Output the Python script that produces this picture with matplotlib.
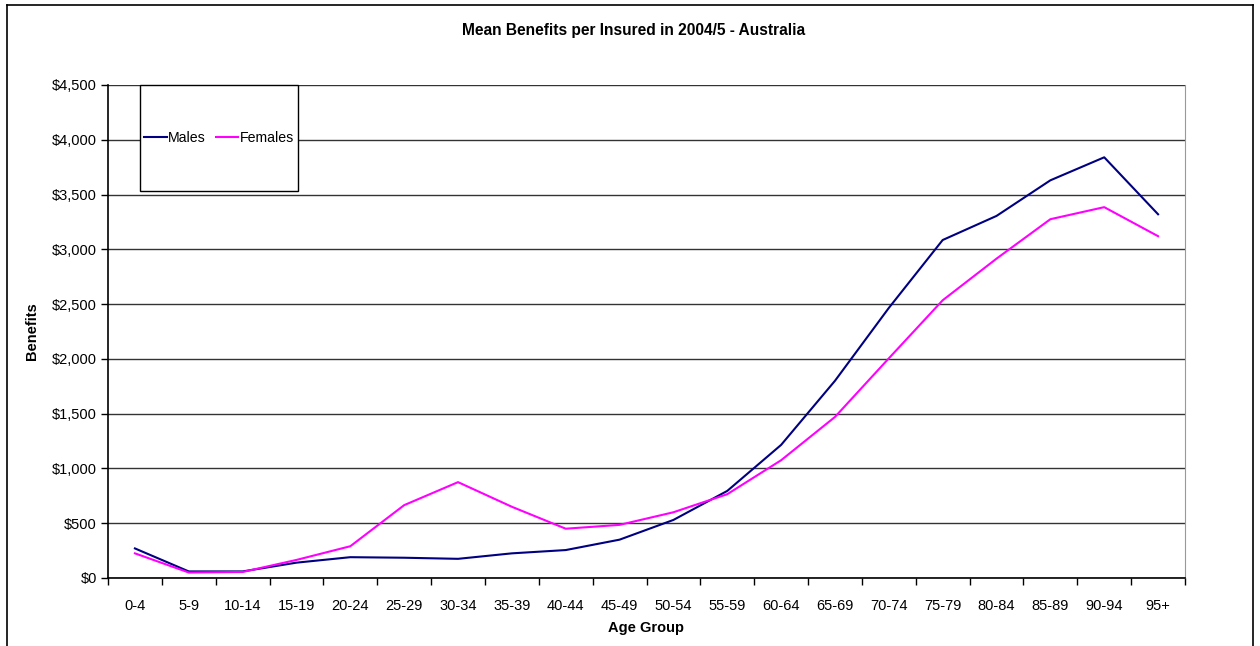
import numpy as np
import matplotlib.pyplot as plt
from matplotlib.patches import Rectangle
from matplotlib.lines import Line2D
from matplotlib.ticker import FuncFormatter, MultipleLocator

plt.rcParams['font.family'] = ['Liberation Sans', 'DejaVu Sans']

age_groups = ['0-4', '5-9', '10-14', '15-19', '20-24', '25-29', '30-34', '35-39',
              '40-44', '45-49', '50-54', '55-59', '60-64', '65-69', '70-74', '75-79',
              '80-84', '85-89', '90-94', '95+']
males = [270, 60, 60, 140, 190, 185, 175, 225, 255, 350, 530, 795, 1215, 1800,
         2465, 3085, 3305, 3630, 3840, 3320]
females = [225, 50, 55, 165, 290, 665, 875, 650, 450, 485, 600, 765, 1075, 1470,
           2005, 2535, 2915, 3275, 3385, 3120]

fig = plt.figure(figsize=(12.6, 6.46), dpi=100)
ax = fig.add_axes([108/1260, 1-578/646, (1185-108)/1260, (578-85)/646])

x = np.arange(len(age_groups))
ax.plot(x, males, color='#000080', lw=1.5, label='Males')
ax.plot(x, females, color='#FF00FF', lw=1.5, label='Females')

ax.set_xlim(-0.5, len(age_groups) - 0.5)
ax.set_ylim(0, 4500)
ax.yaxis.set_major_locator(MultipleLocator(500))
ax.yaxis.set_major_formatter(FuncFormatter(lambda v, p: '${:,.0f}'.format(v)))
ax.set_xticks(x)
ax.set_xticklabels(age_groups)
ax.set_xticks(np.arange(-0.5, len(age_groups)), minor=True)
ax.tick_params(axis='x', which='major', length=0, pad=15, labelsize=10.5)
ax.tick_params(axis='x', which='minor', length=5, width=1, direction='out')
ax.tick_params(axis='y', length=5, width=1, direction='out', labelsize=10.5, pad=3)

ax.grid(axis='y', color='#333333', lw=1)
ax.set_axisbelow(True)
ax.spines['top'].set_visible(False)
ax.spines['right'].set_color('#999999')
ax.spines['left'].set_linewidth(1.2)
ax.spines['bottom'].set_linewidth(1.2)

# title centred on the whole chart, not the plot area
fig.text(634/1260, 1-31/646, 'Mean Benefits per Insured in 2004/5 - Australia',
         fontsize=11.2, fontweight='bold', ha='center', va='center')
ax.set_xlabel('Age Group', fontsize=10.5, fontweight='bold', labelpad=6)
ax.set_ylabel('Benefits', fontsize=10.5, fontweight='bold', labelpad=9)

# legend box
x0 = (140-108)/1077
x1 = (298-108)/1077
y0 = (578-191)/493
ax.add_patch(Rectangle((x0, y0), x1-x0, 1-y0, transform=ax.transAxes,
                       facecolor='white', edgecolor='black', lw=1, zorder=3, clip_on=False))
leg = ax.legend(loc='center', bbox_to_anchor=((x0+x1)/2, (y0+1)/2), ncol=2,
                frameon=False, fontsize=10.2, handlelength=1.6, handletextpad=0.1,
                columnspacing=0.7, borderpad=0)
leg.set_zorder(4)

# outer chart border
for xs, ys in [([7/1260, 7/1260], [0, 1-5/646]), ([7/1260, 1253/1260], [1-5/646, 1-5/646]),
               ([1253/1260, 1253/1260], [1-5/646, 0])]:
    fig.add_artist(Line2D(xs, ys, color='black', lw=1.2, transform=fig.transFigure))

fig.savefig('out.png', dpi=100)
